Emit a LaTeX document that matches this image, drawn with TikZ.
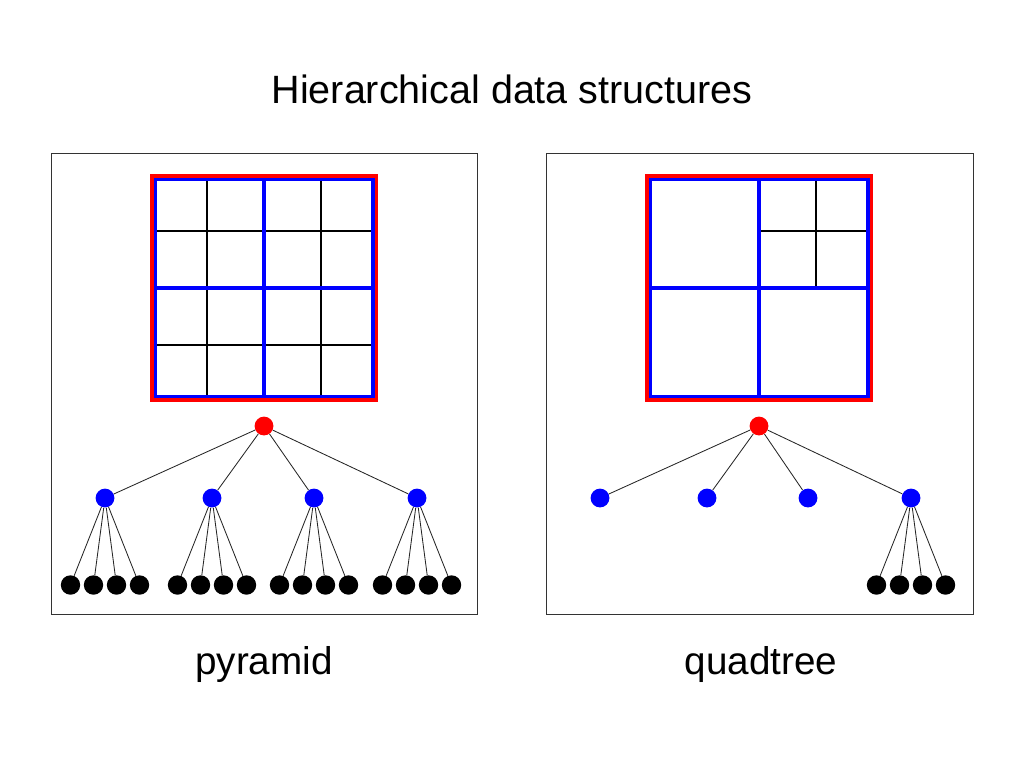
\documentclass[tikz,border=0pt]{standalone}
\usepackage{fontspec}
\setmainfont{Liberation Sans}
\tikzset{
  panelbox/.style={draw=black!80, line width=0.7pt},
  outerframe/.style={draw=red, line width=2.3pt},
  quadline/.style={draw=blue, line width=2.2pt},
  cellline/.style={draw=black, line width=1pt},
  branch/.style={draw=black!85, line width=0.6pt},
  rootdot/.style={circle, fill=red, inner sep=0pt, minimum size=4.7mm},
  innerdot/.style={circle, fill=blue, inner sep=0pt, minimum size=4.7mm},
  leafdot/.style={circle, fill=black, inner sep=0pt, minimum size=4.85mm},
  bigtext/.style={anchor=base, font=\fontsize{28.1}{34}\selectfont},
  labeltext/.style={anchor=base, font=\fontsize{27.5}{33}\selectfont}
}
\begin{document}
\begin{tikzpicture}[x=0.25mm, y=-0.25mm]
  \useasboundingbox (0,0) rectangle (1024,768);
  \node[bigtext] (title) at (512,103) {Hierarchical data structures};
  % pyramid
  \draw[panelbox] (51,153) rectangle (477,614);
  \draw[cellline] (207,179.5) -- (207,396.5);
  \draw[cellline] (321,179.5) -- (321,396.5);
  \draw[cellline] (155,231) -- (373,231);
  \draw[cellline] (155,345) -- (373,345);
  \draw[quadline] (264,179.5) -- (264,396.5);
  \draw[quadline] (155,288) -- (373,288);
  \draw[quadline] (155,179.5) rectangle (373,396.5);
  \draw[outerframe] (152,176) rectangle (376.5,400);
  \node[rootdot] (pr) at (264,426) {};
  \node[innerdot] (pb1) at (105,498) {};
  \node[innerdot] (pb2) at (212,498) {};
  \node[innerdot] (pb3) at (314,498) {};
  \node[innerdot] (pb4) at (417,498) {};
  \node[leafdot] (pl11) at (70.5,585) {};
  \node[leafdot] (pl12) at (93.5,585) {};
  \node[leafdot] (pl13) at (116.5,585) {};
  \node[leafdot] (pl14) at (139.5,585) {};
  \node[leafdot] (pl21) at (177.5,585) {};
  \node[leafdot] (pl22) at (200.5,585) {};
  \node[leafdot] (pl23) at (223.5,585) {};
  \node[leafdot] (pl24) at (246.5,585) {};
  \node[leafdot] (pl31) at (279.5,585) {};
  \node[leafdot] (pl32) at (302.5,585) {};
  \node[leafdot] (pl33) at (325.5,585) {};
  \node[leafdot] (pl34) at (348.5,585) {};
  \node[leafdot] (pl41) at (382.5,585) {};
  \node[leafdot] (pl42) at (405.5,585) {};
  \node[leafdot] (pl43) at (428.5,585) {};
  \node[leafdot] (pl44) at (451.5,585) {};
  \draw[branch] (pr) -- (pb1) (pr) -- (pb2) (pr) -- (pb3) (pr) -- (pb4);
  \draw[branch] (pb1) -- (pl11) (pb1) -- (pl12) (pb1) -- (pl13) (pb1) -- (pl14);
  \draw[branch] (pb2) -- (pl21) (pb2) -- (pl22) (pb2) -- (pl23) (pb2) -- (pl24);
  \draw[branch] (pb3) -- (pl31) (pb3) -- (pl32) (pb3) -- (pl33) (pb3) -- (pl34);
  \draw[branch] (pb4) -- (pl41) (pb4) -- (pl42) (pb4) -- (pl43) (pb4) -- (pl44);
  \node[labeltext] (pyr) at (264,674) {pyramid};
  % quadtree
  \draw[panelbox] (546,153) rectangle (973,614);
  \draw[cellline] (816,179.5) -- (816,288);
  \draw[cellline] (759,231) -- (868,231);
  \draw[quadline] (759,179.5) -- (759,396.5);
  \draw[quadline] (650,288) -- (868,288);
  \draw[quadline] (650,179.5) rectangle (868,396.5);
  \draw[outerframe] (647,176) rectangle (871.5,400);
  \node[rootdot] (qr) at (759,426) {};
  \node[innerdot] (qb1) at (600,498) {};
  \node[innerdot] (qb2) at (707,498) {};
  \node[innerdot] (qb3) at (808,498) {};
  \node[innerdot] (qb4) at (911,498) {};
  \node[leafdot] (ql1) at (876.5,585) {};
  \node[leafdot] (ql2) at (899.5,585) {};
  \node[leafdot] (ql3) at (922.5,585) {};
  \node[leafdot] (ql4) at (945.5,585) {};
  \draw[branch] (qr) -- (qb1) (qr) -- (qb2) (qr) -- (qb3) (qr) -- (qb4);
  \draw[branch] (qb4) -- (ql1) (qb4) -- (ql2) (qb4) -- (ql3) (qb4) -- (ql4);
  \node[labeltext] (quad) at (761,674) {quadtree};
\end{tikzpicture}
\end{document}
